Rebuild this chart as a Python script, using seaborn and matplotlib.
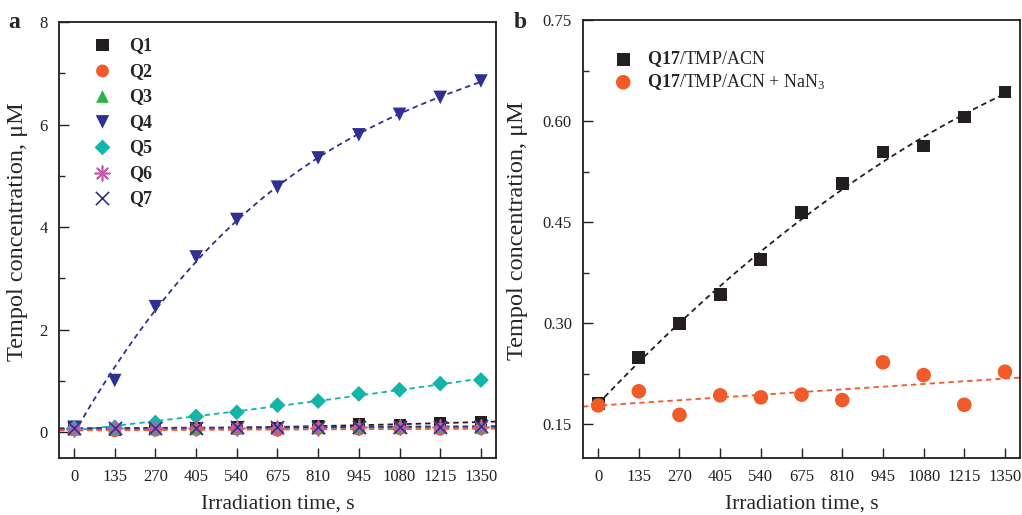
import numpy as np
import pandas as pd
import matplotlib
matplotlib.use("Agg")
import matplotlib.pyplot as plt
import seaborn as sns

sns.set_theme(style="ticks")
plt.rcParams['font.family'] = ['Liberation Serif', 'DejaVu Serif']
plt.rcParams['mathtext.fontset'] = 'custom'
plt.rcParams['mathtext.rm'] = 'Liberation Serif'
plt.rcParams['mathtext.bf'] = 'Liberation Serif:bold'
plt.rcParams['mathtext.it'] = 'Liberation Serif:italic'

# ---------------- data ----------------
time_s = [0, 135, 270, 405, 540, 675, 810, 945, 1080, 1215, 1350]

q1 = [0.06, 0.05, 0.07, 0.08, 0.10, 0.09, 0.12, 0.16, 0.15, 0.18, 0.20]
q2 = [0.05, 0.03, 0.04, 0.05, 0.06, 0.04, 0.07, 0.06, 0.07, 0.06, 0.07]
q3 = [0.06, 0.07, 0.07, 0.08, 0.08, 0.09, 0.09, 0.09, 0.10, 0.10, 0.10]
q4 = [0.10, 1.01, 2.45, 3.42, 4.15, 4.78, 5.35, 5.80, 6.20, 6.53, 6.85]
q5 = [0.08, 0.10, 0.19, 0.31, 0.39, 0.53, 0.61, 0.75, 0.83, 0.95, 1.02]
q6 = [0.07, 0.08, 0.08, 0.08, 0.09, 0.09, 0.09, 0.10, 0.10, 0.10, 0.11]
q7 = [0.08, 0.08, 0.09, 0.09, 0.10, 0.10, 0.10, 0.11, 0.11, 0.11, 0.12]

q17 = [0.181, 0.249, 0.300, 0.343, 0.394, 0.464, 0.507, 0.554, 0.563, 0.606, 0.643]
q17_nan3 = [0.178, 0.199, 0.164, 0.193, 0.190, 0.194, 0.186, 0.242, 0.223, 0.179, 0.228]

labels_a = ["Q1", "Q2", "Q3", "Q4", "Q5", "Q6", "Q7"]
labels_b = [r"$\mathbf{Q17}$/TMP/ACN", r"$\mathbf{Q17}$/TMP/ACN + NaN$_3$"]
xticks = time_s

# ---------------- styles ----------------
series_a = [q1, q2, q3, q4, q5, q6, q7]
colors_a = ["#231f20", "#f15a29", "#2bb34a", "#2e3192", "#13b5a8", "#c75aa6", "#2e3192"]
markers_a = ["s", "o", "^", "v", "D", (8, 2, 0), "x"]
sizes_a = [75, 85, 85, 95, 65, 110, 90]
fit_order_a = [2, 1, 1, 3, 2, 1, 1]
truncate_a = [False, False, False, True, True, False, False]

fig = plt.figure(figsize=(10.22, 5.15), dpi=100)
axa = fig.add_axes([0.0577, 0.1107, 0.4276, 0.8466])
axb = fig.add_axes([0.5705, 0.1107, 0.4276, 0.8505])

# ---------- panel a ----------
axa.set_xlim(-50, 1400)
axa.set_ylim(-0.5, 8)
for vals, c, m, s, o, tr, lab in zip(series_a, colors_a, markers_a, sizes_a,
                                     fit_order_a, truncate_a, labels_a):
    df = pd.DataFrame({"t": time_s, "c": vals})
    sns.regplot(data=df, x="t", y="c", ax=axa, scatter=False, ci=None,
                order=o, truncate=tr,
                line_kws=dict(color=c, lw=1.3, ls=(0, (3, 2.2))))
for vals, c, m, s, lab in zip(series_a, colors_a, markers_a, sizes_a, labels_a):
    df = pd.DataFrame({"t": time_s, "c": vals})
    lw = 1.2 if m in ("x",) or isinstance(m, tuple) else 0
    sns.scatterplot(data=df, x="t", y="c", ax=axa, marker=m, s=s, color=c,
                    edgecolor=c if lw else "none", linewidth=lw, label=lab,
                    zorder=3)

# ---------- panel b ----------
axb.set_xlim(-50, 1400)
axb.set_ylim(0.10, 0.75)
dfb1 = pd.DataFrame({"t": time_s, "c": q17})
dfb2 = pd.DataFrame({"t": time_s, "c": q17_nan3})
sns.regplot(data=dfb1, x="t", y="c", ax=axb, scatter=False, ci=None, order=2,
            truncate=True, line_kws=dict(color="#231f20", lw=1.3, ls=(0, (3, 2.2))))
sns.regplot(data=dfb2, x="t", y="c", ax=axb, scatter=False, ci=None, order=1,
            truncate=False, line_kws=dict(color="#f15a29", lw=1.3, ls=(0, (3, 2.2))))
sns.scatterplot(data=dfb1, x="t", y="c", ax=axb, marker="s", s=85,
                color="#231f20", edgecolor="none", label=labels_b[0], zorder=3)
sns.scatterplot(data=dfb2, x="t", y="c", ax=axb, marker="o", s=110,
                color="#f15a29", edgecolor="none", label=labels_b[1], zorder=3)

# ---------- common formatting ----------
for ax in (axa, axb):
    ax.set_xticks(xticks)
    ax.set_xticklabels([str(v) for v in xticks])
    ax.set_xlabel("Irradiation time, s", fontsize=15.5, labelpad=7)
    ax.set_ylabel("Tempol concentration, μM", fontsize=17.5)
    ax.tick_params(axis="both", which="major", direction="in", length=7,
                   width=1.0, labelsize=12, pad=8, colors="#231f20",
                   labelcolor="#231f20")
    ax.tick_params(axis="y", which="minor", direction="in", length=4, width=1.0)
    for sp in ax.spines.values():
        sp.set_linewidth(1.3)
        sp.set_color("#231f20")

axa.yaxis.set_label_coords(-0.072, 0.52)
axb.yaxis.set_label_coords(-0.127, 0.52)

axa.set_yticks([0, 2, 4, 6, 8])
axa.set_yticks([1, 3, 5, 7], minor=True)
axb.set_yticks([0.15, 0.30, 0.45, 0.60, 0.75])
axb.set_yticklabels(["0.15", "0.30", "0.45", "0.60", "0.75"])
axb.set_yticks([0.225, 0.375, 0.525, 0.675], minor=True)

lega = axa.legend(loc="upper left", bbox_to_anchor=(0.05, 0.99), frameon=False,
                  fontsize=13, labelspacing=0.47, handletextpad=0.9,
                  borderaxespad=0.2, handlelength=1.2)
for t in lega.get_texts():
    t.set_fontweight("bold")
legb = axb.legend(loc="upper left", bbox_to_anchor=(0.03, 0.97), frameon=False,
                  fontsize=13, labelspacing=0.15, handletextpad=0.7,
                  handlelength=1.2)

fig.text(0.008, 0.945, "a", fontsize=17, fontweight="bold", ha="left", va="baseline")
fig.text(0.503, 0.945, "b", fontsize=17, fontweight="bold", ha="left", va="baseline")

fig.savefig("out.png", dpi=100)
